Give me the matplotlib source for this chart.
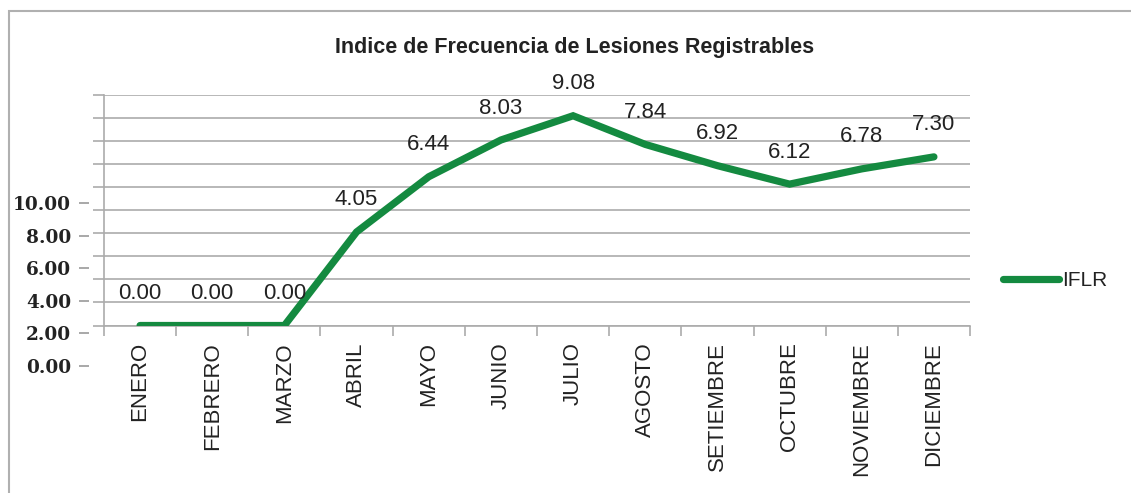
import matplotlib
matplotlib.use("Agg")
import matplotlib.pyplot as plt
from matplotlib.patches import Rectangle
from matplotlib import font_manager

months = ["ENERO", "FEBRERO", "MARZO", "ABRIL", "MAYO", "JUNIO", "JULIO",
          "AGOSTO", "SETIEMBRE", "OCTUBRE", "NOVIEMBRE", "DICIEMBRE"]
iflr = [0.00, 0.00, 0.00, 4.05, 6.44, 8.03, 9.08, 7.84, 6.92, 6.12, 6.78, 7.30]
label_ticks = [0, 2, 4, 6, 8, 10]
series_name = "IFLR"
title = "Indice de Frecuencia de Lesiones Registrables"

names = {f.name for f in font_manager.fontManager.ttflist}
narrow = "Liberation Sans Narrow" if "Liberation Sans Narrow" in names else "Liberation Sans"
is_narrow = narrow == "Liberation Sans Narrow"
fs_lab = 18.5 if is_narrow else 16

W, H = 1131, 493
fig = plt.figure(figsize=(W / 100, H / 100), dpi=100)
fig.patch.set_facecolor("white")

# outer border
fig.patches.append(Rectangle((8.5 / W, -0.1), 1.2, 1 - 11 / H + 0.1, transform=fig.transFigure,
                             fill=False, edgecolor="#B0B0B0", linewidth=1.5))

green = "#148A40"
grid_c = "#ABABAB"
txt_c = "#222222"

left, right, top, bottom = 104, 970, 94.5, 325.5
ax = fig.add_axes([left / W, 1 - bottom / H, (right - left) / W, (bottom - top) / H])
x = list(range(len(months)))
ax.plot(x, iflr, color=green, lw=5.2, solid_capstyle="round", solid_joinstyle="miter",
        label=series_name, zorder=3)
ax.set_xlim(-0.5, len(months) - 0.5)
ax.set_ylim(0, 10)
ax.set_yticks(range(0, 11))
ax.yaxis.grid(True, color=grid_c, lw=1.2)
ax.set_axisbelow(True)
ax.tick_params(axis="y", length=8, color=grid_c, width=1.2, labelleft=False)
ax.set_xticks([i - 0.5 for i in range(len(months) + 1)])
ax.set_xticklabels([])
ax.set_xticks(x, minor=True)
ax.set_xticklabels(months, minor=True, rotation=90, fontsize=fs_lab, family=narrow,
                   color=txt_c, va="top")
ax.tick_params(axis="x", which="major", length=7, color=grid_c, width=1.2)
ax.tick_params(axis="x", which="minor", length=0, pad=12)
for s in ["top", "right"]:
    ax.spines[s].set_visible(False)
ax.spines["left"].set_color(grid_c)
ax.spines["left"].set_linewidth(1.2)
ax.spines["bottom"].set_color(grid_c)
ax.spines["bottom"].set_linewidth(1.2)

for xi, v in zip(x, iflr):
    ax.annotate(f"{v:.2f}", (xi, v), xytext=(0, 32), textcoords="offset pixels",
                ha="center", va="center", fontsize=fs_lab, family=narrow, color=txt_c)

ax.legend(loc="center left", bbox_to_anchor=(1003 / W, 1 - 281 / H),
          bbox_transform=fig.transFigure, frameon=False, handlelength=2.7,
          handletextpad=0.15, borderpad=0, borderaxespad=0,
          prop={"family": narrow, "size": fs_lab - 1}, labelcolor=txt_c)

fig.text(575 / W, 1 - 47 / H, title, ha="center", va="center", fontsize=15.5,
         fontweight="bold", family=narrow, color=txt_c)

# misplaced value axis labels
ay = fig.add_axes([89 / W, 1 - 366 / H, 0.001, (366 - 203) / H])
ay.set_ylim(0, 10)
ay.set_yticks(label_ticks)
ay.set_yticklabels([f"{t:.2f}" for t in label_ticks], family="DejaVu Serif",
                   fontweight="bold", fontsize=13.3, color=txt_c)
ay.tick_params(axis="y", length=7, color="#999999", width=1.2, pad=6)
ay.set_xticks([])
for s in ay.spines.values():
    s.set_visible(False)
ay.patch.set_visible(False)

fig.savefig("out.png", dpi=100)
